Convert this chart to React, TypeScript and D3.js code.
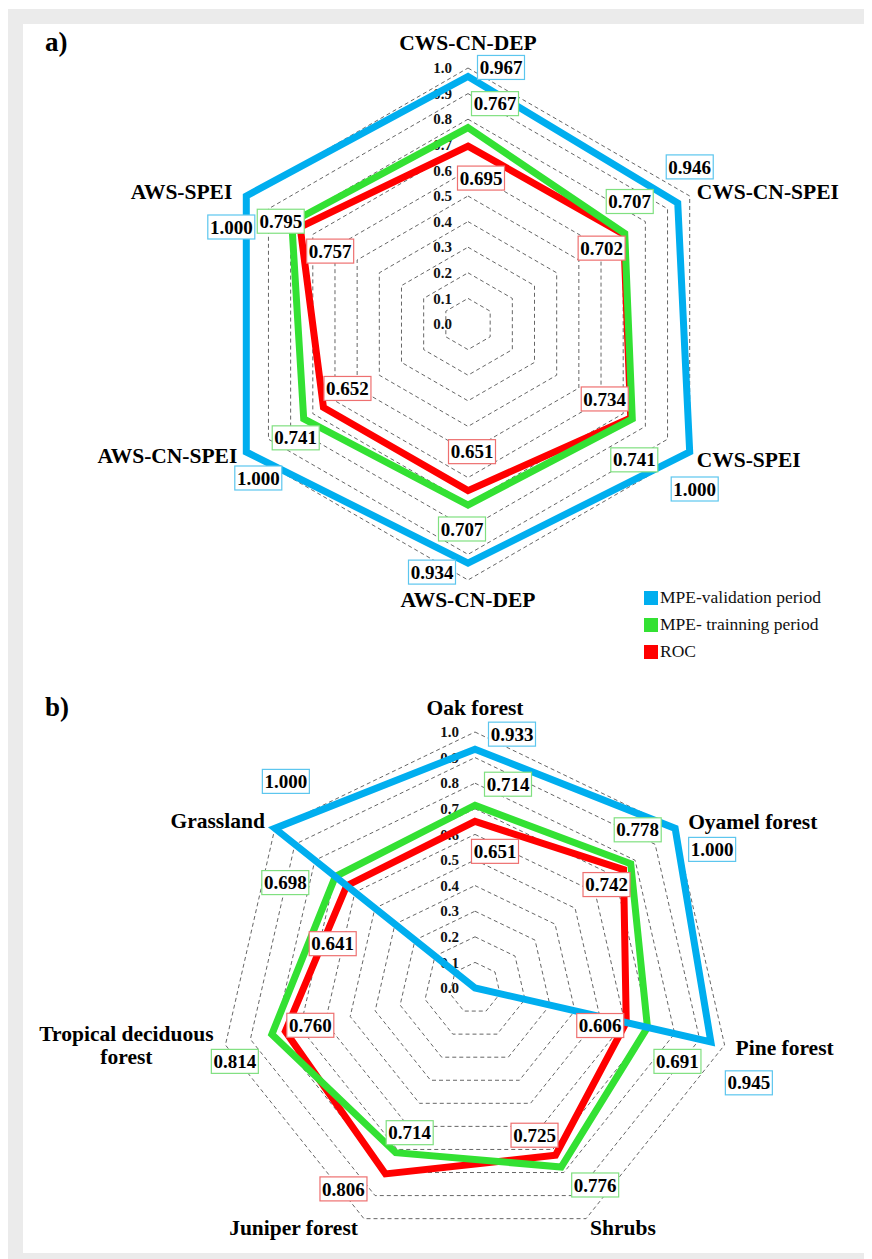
import React from 'react'
import * as d3 from 'd3'

// chart a) drought indices
const axesA = ['CWS-CN-DEP', 'CWS-CN-SPEI', 'CWS-SPEI', 'AWS-CN-DEP', 'AWS-CN-SPEI', 'AWS-SPEI']
const validationA = [0.967, 0.946, 1.0, 0.934, 1.0, 1.0]
const trainingA = [0.767, 0.707, 0.741, 0.707, 0.741, 0.795]
const rocA = [0.695, 0.702, 0.734, 0.651, 0.652, 0.757]

// chart b) vegetation types
const axesB = ['Oak forest', 'Oyamel forest', 'Pine forest', 'Shrubs', 'Juniper forest', 'Tropical deciduous forest', 'Grassland']
const validationB = [0.933, 1.0, 0.945, null, null, null, 1.0]
const trainingB = [0.714, 0.778, 0.691, 0.776, 0.714, 0.814, 0.698]
const rocB = [0.651, 0.742, 0.606, 0.725, 0.806, 0.76, 0.641]

const tickValues = [0, 0.1, 0.2, 0.3, 0.4, 0.5, 0.6, 0.7, 0.8, 0.9, 1.0]
const legendLabels = ['MPE-validation period', 'MPE- trainning period', 'ROC']

const BLUE = '#00AEEF'
const GREEN = '#33E133'
const RED = '#FF0000'
const FONT = '"Liberation Serif", "Times New Roman", serif'

// label layout (offsets from the point / ring vertex)
const axisLayoutA = [
  { dx: 0, dy: -18, anchor: 'middle' },
  { dx: 7, dy: 3, anchor: 'start' },
  { dx: 7, dy: 15, anchor: 'start' },
  { dx: 0, dy: 27, anchor: 'middle' },
  { dx: -9, dy: 11, anchor: 'end' },
  { dx: -14, dy: 3, anchor: 'end' },
]
const boxLayoutA = {
  validation: [[33, -9], [12, -36], [5, 37], [-36, 9], [12, 26], [-15, 31]],
  training: [[27, -24], [5, -32], [2, 41], [-6, 24], [-8, 19], [-11, -1]],
  roc: [[13, 32], [-22, 14], [-26, -19], [4, -39], [24, -19], [30, 24]],
}
const axisLayoutB = [
  { dx: 0, dy: -17, anchor: 'middle' },
  { dx: 13, dy: 1, anchor: 'start' },
  { dx: 11, dy: 10, anchor: 'start' },
  { dx: 4, dy: 16, anchor: 'start' },
  { dx: -6, dy: 16, anchor: 'end' },
  { dx: -99, dy: -4, anchor: 'middle', wrap: 2 },
  { dx: -10, dy: 0, anchor: 'end' },
]
const boxLayoutB = {
  validation: [[37, -15], [37, 21], [38, 41], [0, 0], [0, 0], [0, 0], [11, -47]],
  training: [[33, -21], [7, -34], [30, 34], [34, 18], [14, -20], [-37, 27], [-50, 6]],
  roc: [[20, 30], [-17, 15], [-26, 3], [-21, -20], [-42, 15], [25, -6], [-14, 58]],
}

const R = 256
const rScale = d3.scaleLinear().domain([0, 1]).range([0, R])

type Series = { key: 'validation' | 'training' | 'roc'; values: (number | null)[]; color: string; box: string }

function Radar({ cx, cy, axes, series, axisLayout, boxLayout }: {
  cx: number; cy: number; axes: string[]; series: Series[]
  axisLayout: { dx: number; dy: number; anchor: string; wrap?: number }[]
  boxLayout: Record<string, number[][]>
}) {
  const n = axes.length
  const angle = (i: number) => (2 * Math.PI * i) / n
  const radial = d3.lineRadial<number>()
    .angle((_, i) => angle(i))
    .radius(d => rScale(d))
    .curve(d3.curveLinearClosed)

  // red under green under blue
  const drawOrder = [...series].reverse()

  return (
    <g transform={`translate(${cx},${cy})`}>
      {tickValues.filter(t => t > 0).map(t => (
        <path key={t} d={radial(axes.map(() => t)) || ''} fill="none" stroke="#555" strokeWidth={0.9} strokeDasharray="4 3" />
      ))}
      {tickValues.map(t => (
        <text key={'t' + t} x={-16} y={-rScale(t)} dy="0.35em" textAnchor="end" fontFamily={FONT} fontWeight="bold" fontSize={15} fill="#111">
          {t.toFixed(1)}
        </text>
      ))}
      {drawOrder.map(s => (
        <path key={s.key} d={radial(s.values.map(v => v ?? 0)) || ''} fill="none" stroke={s.color} strokeWidth={7} strokeLinejoin="miter" />
      ))}
      {axes.map((name, i) => {
        const [x, y] = d3.pointRadial(angle(i), R)
        const l = axisLayout[i]
        const words = name.split(' ')
        const lines = l.wrap ? [words.slice(0, l.wrap).join(' '), words.slice(l.wrap).join(' ')] : [name]
        return (
          <text key={name} x={x + l.dx} y={y + l.dy} textAnchor={l.anchor} fontFamily={FONT} fontWeight="bold" fontSize={21.5} fill="#000">
            {lines.map((ln, j) => (
              <tspan key={j} x={x + l.dx} dy={j === 0 ? 0 : 23}>{ln}</tspan>
            ))}
          </text>
        )
      })}
      {series.map(s => s.values.map((v, i) => {
        if (v == null) return null
        const [x, y] = d3.pointRadial(angle(i), rScale(v))
        const [dx, dy] = boxLayout[s.key][i]
        const bx = x + dx
        const by = y + dy
        return (
          <g key={s.key + i}>
            <rect x={bx - 23.5} y={by - 12} width={47} height={24} fill="#fff" stroke={s.box} strokeWidth={1.2} />
            <text x={bx} y={by} dy="0.35em" textAnchor="middle" fontFamily={FONT} fontWeight="bold" fontSize={19} fill="#000">
              {v.toFixed(3)}
            </text>
          </g>
        )
      }))}
    </g>
  )
}

export default function App() {
  const seriesA: Series[] = [
    { key: 'validation', values: validationA, color: BLUE, box: '#5CC6EE' },
    { key: 'training', values: trainingA, color: GREEN, box: '#80E080' },
    { key: 'roc', values: rocA, color: RED, box: '#EE7070' },
  ]
  const seriesB: Series[] = [
    { key: 'validation', values: validationB, color: BLUE, box: '#5CC6EE' },
    { key: 'training', values: trainingB, color: GREEN, box: '#80E080' },
    { key: 'roc', values: rocB, color: RED, box: '#EE7070' },
  ]
  const legendColors = [BLUE, GREEN, RED]

  return (
    <svg width={864} height={1251} style={{ display: 'block' }}>
      <g transform="translate(-8,-8)">
        <rect x={8} y={9} width={864} height={1250} fill="#ebebeb" />
        <rect x={23} y={24} width={849} height={1229} fill="#fff" />

        <text x={45} y={51} fontFamily={FONT} fontWeight="bold" fontSize={27}>a)</text>
        <text x={45} y={716} fontFamily={FONT} fontWeight="bold" fontSize={27}>b)</text>

        <Radar cx={468} cy={324} axes={axesA} series={seriesA} axisLayout={axisLayoutA} boxLayout={boxLayoutA} />
        <Radar cx={475} cy={988} axes={axesB} series={seriesB} axisLayout={axisLayoutB} boxLayout={boxLayoutB} />

        <g transform="translate(644,591)">
          {legendLabels.map((lab, i) => (
            <g key={lab} transform={`translate(0,${i * 27})`}>
              <rect x={0} y={0} width={14} height={14} fill={legendColors[i]} />
              <text x={16} y={12} fontFamily={FONT} fontSize={17.5} fill="#111">{lab}</text>
            </g>
          ))}
        </g>
      </g>
    </svg>
  )
}
